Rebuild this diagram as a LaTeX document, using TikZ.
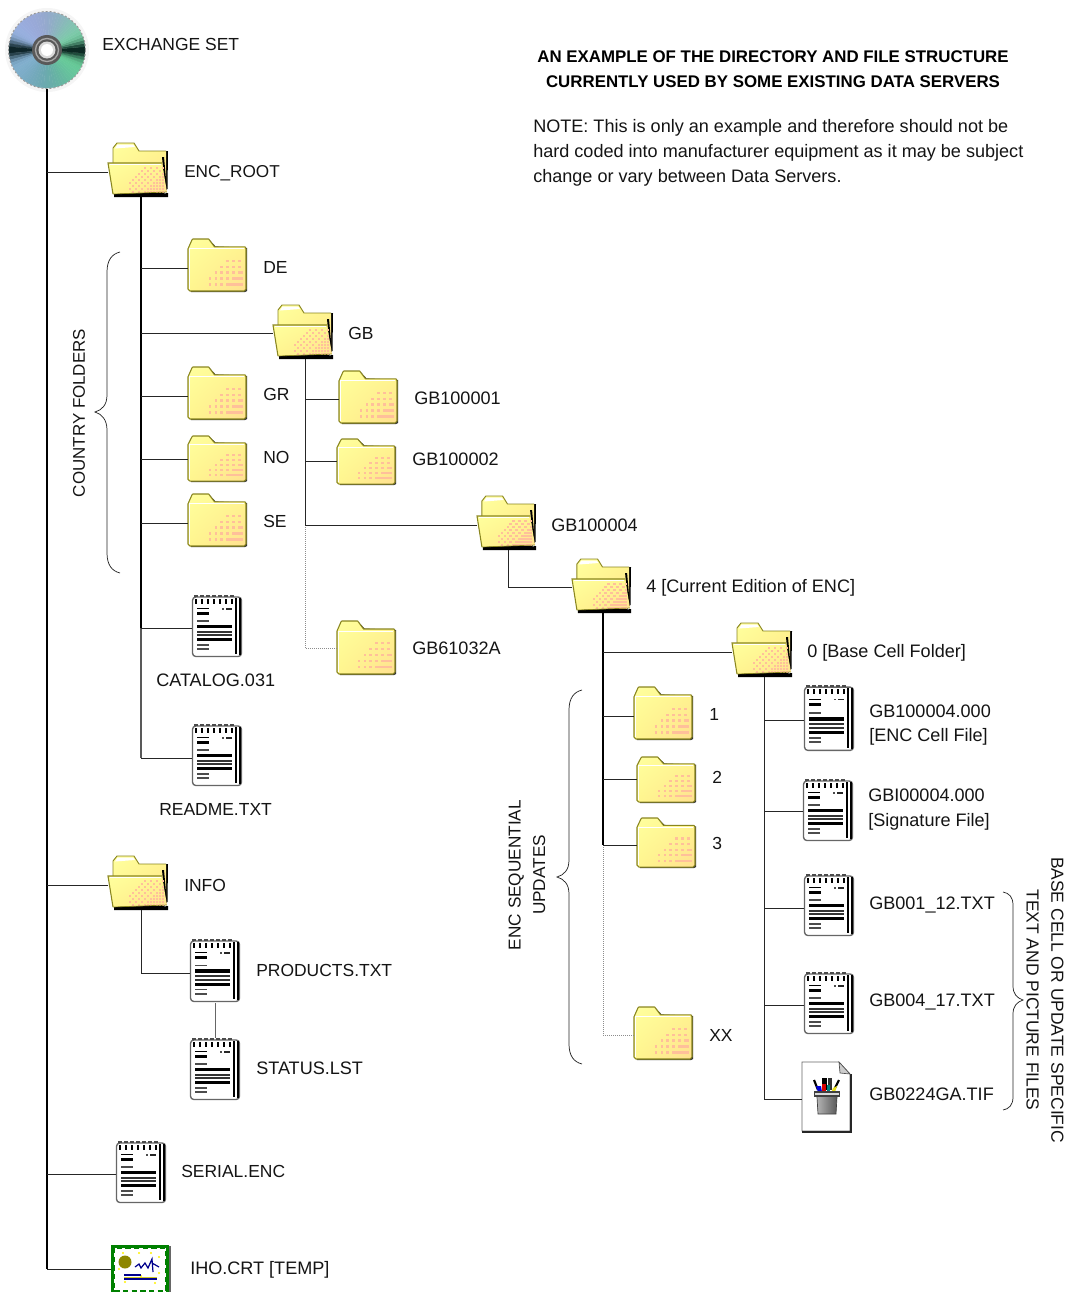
\documentclass[tikz,border=0pt]{standalone}
\usepackage{fontspec}
\usetikzlibrary{shadings}
\setmainfont{Liberation Sans}
\definecolor{folderedge}{HTML}{8A8620}
\definecolor{foldera}{HTML}{FFFF9E}
\definecolor{folderb}{HTML}{FFF68E}
\definecolor{folderc}{HTML}{FFE090}
\definecolor{folderdot}{HTML}{FFC09A}
\newcommand{\fs}{\fontsize{13.1pt}{18.4pt}\selectfont}
\newcommand{\fw}{\fontsize{13.55pt}{18.4pt}\selectfont}
\tikzset{
  iconbox/.style={inner sep=0pt,outer sep=0pt,draw=none,rectangle},
  lbl/.style={anchor=west,inner sep=0pt,font=\fs,text=black!92,yshift=.5pt},
  lblw/.style={lbl,font=\fw},
  lblblock/.style={lblw,align=left},
  rotlbl/.style={inner sep=0pt,font=\fs,align=center,text=black!92},
  titlelbl/.style={inner sep=0pt,font=\fontsize{12.65pt}{18.6pt}\selectfont\bfseries,align=center,text=black},
  trunk/.style={line width=1.3pt,black},
  branch/.style={line width=.7pt,black!85},
  thinline/.style={line width=.55pt,black!60},
  faintline/.style={line width=.5pt,black!45,densely dotted},
  bracestyle/.style={line width=.55pt,black!85},
  folderfill/.style={upper left=foldera,upper right=folderb,lower left=folderb,lower right=folderc},
}
\newcommand{\iconnode}[6]{%
  \node[iconbox,minimum width={(#4-#2)*0.75pt},minimum height={2*(#5-#6)*0.75pt}] (#1) at ({(#2+#4)/2},#6) {};}
% dither of pink squares, densest towards the lower right
\newcommand{\dotsfolder}[2]{%
  \foreach \dx in {#1,24,...,54} {\foreach \dy in {#2,27,...,48} {
    \pgfmathparse{(\dx/60+\dy/54>1.0 && mod(\dx+\dy,2)==0) || (\dx/60+\dy/54>1.45)?1:0}
    \ifnum\pgfmathresult=1 \fill[folderdot] (\dx,\dy) rectangle +(2.4,2.4); \fi
  }}}
% name x1 y1 x2 y2 liney
\newcommand{\cfolder}[6]{%
  \iconnode{#1}{#2}{#3}{#4}{#5}{#6}
  \begin{scope}[shift={(#2,#3)},xscale={(#4-#2)/60},yscale={(#5-#3)/54}]
    \fill[black!80] (22,1) -- (28,7.5) -- (60,9) -- (60,53) -- (58,54) -- (3,54) -- (3,12) -- cycle;
    \shade[folderfill] (0,10) -- (4,1) -- (5,0) -- (21,0) -- (27,8) -- (58,8) -- (59,10) -- (59,51) -- (57,53) -- (2,53) -- (0,51) -- cycle;
    \dotsfolder{21}{21}
    \draw[folderedge,line width=.8pt,line join=round] (2,53) -- (0,51) -- (0,10) -- (4,1) -- (5,0) -- (21,0) -- (27,8) -- (58,8) -- (59,10) -- (59,51) -- (57,53) -- cycle;
    \draw[white,line width=.5pt] (1.5,51) -- (1.5,10) -- (57,10);
  \end{scope}}
\newcommand{\ofolder}[6]{%
  \iconnode{#1}{#2}{#3}{#4}{#5}{#6}
  \begin{scope}[shift={(#2,#3)},xscale={(#4-#2)/60},yscale={(#5-#3)/54}]
    \fill[black] (6,50) -- (59.5,46) -- (60,8) -- (58,8) -- (58,46) -- (56,50.5) -- (60,50) -- (60,54) -- (6,54) -- cycle;
    \shade[folderfill] (5,20) -- (5,5) -- (9,0) -- (26,0) -- (31,8) -- (58,8) -- (58,45) -- (5,45) -- cycle;
    \draw[folderedge,line width=.7pt] (5,20) -- (5,5) -- (9,0) -- (26,0) -- (31,8) -- (58,8);
    \fill[white] (7,5.5) -- (9.5,1.5) -- (25,1.5) -- (27,4) -- cycle;
    \fill[black] (54,14) -- (56,14) -- (59,47) -- (57,47) -- cycle;
    \shade[folderfill] (0,20) -- (54,20) -- (59,49) -- (5,51) -- cycle;
    \dotsfolder{21}{24}
    \draw[folderedge,line width=.8pt] (5,51) -- (0,20) -- (54,20);
    \draw[white,line width=.5pt] (2,21.5) -- (53,21.5);
    \draw[folderedge,line width=.5pt] (5,51) -- (59,49);
  \end{scope}}
\newcommand{\docicon}[6]{%
  \iconnode{#1}{#2}{#3}{#4}{#5}{#6}
  \begin{scope}[shift={(#2,#3)},xscale={(#4-#2)/51},yscale={(#5-#3)/63}]
    \filldraw[fill=white,draw=black!60,line width=1pt,rounded corners=2.5pt] (0.5,2) rectangle (49.5,61.5);
    \fill[black] (42.5,3) rectangle (44.5,59);
    \fill[black] (46.5,3) rectangle (49,60);
    \foreach \r in {3,9,...,39} {
      \fill[black] (\r,3.5) rectangle (\r+1.6,8.5);
      \fill[black!70] (\r-1.2,0.3) rectangle (\r+3,2.2);
    }
    \fill[black] (4.5,13) rectangle (16.5,14.2);
    \fill[black] (4.5,17) rectangle (16.5,20);
    \fill[black!70] (30,13) rectangle (32,14.5);
    \fill[black!85] (34,13) rectangle (39.5,14.5);
    \fill[black!70] (4.5,25.3) rectangle (16.5,26.8);
    \fill[black] (4.5,30) rectangle (39.5,33.4);
    \fill[black!80] (4.5,35.8) rectangle (39.5,37.6);
    \fill[black!80] (4.5,39.2) rectangle (39.5,41);
    \fill[black] (4.5,43) rectangle (39.5,46);
    \fill[black!70] (4.5,49.3) rectangle (16.5,50.5);
    \fill[black!70] (4.5,53) rectangle (16.5,54.8);
  \end{scope}}
\newcommand{\pageicon}[6]{%
  \iconnode{#1}{#2}{#3}{#4}{#5}{#6}
  \begin{scope}[shift={(#2,#3)},xscale={(#4-#2)/50},yscale={(#5-#3)/70}]
    \filldraw[fill=white,draw=black!60,line width=.5pt] (0,0) -- (37,0) -- (48,12) -- (48,69) -- (0,69) -- cycle;
    \draw[black!85,line width=.9pt] (49,12) -- (49,70) -- (0,70);
    \filldraw[fill=black!20,draw=black!70,line width=.5pt] (37,0) -- (38,11) -- (48,12) -- cycle;
    % pens
    \draw[black,line width=1.6pt] (12,18) -- (16,28);
    \draw[black,line width=1.6pt] (37,18) -- (32,28);
    \fill[black] (20,16) rectangle (25,28);
    \fill[black!80] (26,16) rectangle (30,28);
    \fill[blue!85!black] (14,24) -- (19,24) -- (20,30) -- (16,30) -- cycle;
    \fill[red!85!black] (20,22) -- (24,22) -- (24,30) -- (20,30) -- cycle;
    \fill[teal] (25,23) -- (28,23) -- (28,30) -- (25,30) -- cycle;
    \fill[yellow!90!black] (31,26) -- (35,24) -- (33,30) -- (29,31) -- cycle;
    % cup
    \fill[black!75] (12,29) rectangle (38,35);
    \fill[black!15] (13,31) rectangle (37,33);
    \shade[left color=black!30,middle color=white,right color=black!65] (15,35) -- (35,35) -- (34,52) -- (16,52) -- cycle;
    \draw[black!75,line width=.5pt] (15,35) -- (16,52) -- (34,52) -- (35,35);
  \end{scope}}
\newcommand{\certicon}[6]{%
  \iconnode{#1}{#2}{#3}{#4}{#5}{#6}
  \begin{scope}
    \clip (#2-2,#3-2) rectangle (#4+2,#5);
    \begin{scope}[shift={(#2,#3)}]
      \fill[green!50!black] (0,0) rectangle (58,50);
      \fill[black!60] (58,1) rectangle (59.5,50);
      \fill[white] (3,3) rectangle (55,50);
      \draw[green!50!black,line width=1.5pt,dash pattern=on 4pt off 2.5pt] (3,3) rectangle (55,46);
      \fill[black!25] (0,48) rectangle (58,50);
      \fill[yellow] (12,8) circle (1.2) (28,8) circle (1.2) (40,8) circle (1.2) (48,12) circle (1.2) (8,24) circle (1.2) (48,28) circle (1.2) (30,31) circle (1.2) (14,37) circle (1.2) (44,38) circle (1.2);
      \fill[olive] (14,17) circle (6.5);
      \draw[blue!55!black,line width=.9pt] (24,22) -- (28,19) -- (30,23) -- (34,18) -- (37,23) -- (41,14) -- (42,27) (41,18) -- (48,22);
      \draw[blue!55!black,line width=.9pt] (13,30) -- (30,30) (13,34) -- (46,34);
      \draw[yellow!80!black,line width=.6pt] (13,32) -- (46,32);
    \end{scope}
  \end{scope}}
\begin{document}
\begin{tikzpicture}[x=0.75pt,y=-0.75pt]
\useasboundingbox (0,0) rectangle (1068,1292);
% CD
\node[iconbox,circle,minimum size=78*0.75pt] (cd) at (47,50) {};
\fill[black!4] (47,50) circle (42);
\foreach \a in {0,5,...,355} {
  \pgfmathsetmacro\mid{\a+2.5}
  \pgfmathsetmacro\dk{pow(abs(cos(\mid)),30)*0.92}
  \pgfmathsetmacro\rr{(0.50+0.08*sin(\mid)-0.06*cos(\mid))*(1-\dk)}
  \pgfmathsetmacro\gg{(0.72+0.05*cos(2*\mid)+0.06*cos(\mid))*(1-\dk)+0.08*\dk}
  \pgfmathsetmacro\bb{(0.74+0.06*sin(\mid)-0.12*cos(\mid))*(1-\dk)+0.08*\dk}
  \definecolor{wedgecol}{rgb}{\rr,\gg,\bb}
  \filldraw[fill=wedgecol,draw=wedgecol,line width=.2pt] (47,50) -- ({47+38*cos(\a)},{50-38*sin(\a)}) -- ({47+38*cos(\a+5)},{50-38*sin(\a+5)}) -- cycle;
}
\draw[black!40,line width=.7pt,dash pattern=on 1.5pt off 1.5pt] (47,50) circle (38.5);
\fill[black!65] (47,50) circle (15);
\draw[black!35,line width=1pt] (47,50) circle (11.5);
\fill[black!15] (47,50) circle (8.5);
\fill[white] (47,50) circle (6);

% icons
\ofolder{enc}{108}{143}{168}{197}{172}
\cfolder{de}{188}{239}{247}{292}{268}
\ofolder{gb}{273}{305}{333}{359}{333}
\cfolder{gr}{188}{367}{247}{420}{396}
\cfolder{no}{188}{436}{247}{482}{459}
\cfolder{se}{188}{494}{247}{547}{523}
\docicon{catalog}{192}{595}{243}{658}{628}
\docicon{readme}{192}{724}{243}{787}{758}
\cfolder{gbone}{339}{371}{398}{424}{399}
\cfolder{gbtwo}{337}{439}{396}{485}{461}
\ofolder{gbfour}{477}{496}{536}{550}{525}
\cfolder{gbsixone}{337}{621}{396}{675}{648}
\ofolder{four}{572}{559}{631}{613}{587}
\ofolder{zero}{732}{623}{792}{677}{652}
\cfolder{one}{634}{687}{693}{740}{716}
\cfolder{two}{637}{757}{696}{803}{779}
\cfolder{three}{637}{818}{696}{868}{845}
\cfolder{xx}{634}{1007}{693}{1060}{1035}
\docicon{cell}{804}{685}{855}{752}{720}
\docicon{sig}{803}{779}{854}{842}{811}
\docicon{txta}{804}{874}{855}{937}{908}
\docicon{txtb}{804}{972}{855}{1035}{1005}
\pageicon{tif}{802}{1062}{852}{1132}{1099}
\ofolder{info}{108}{856}{168}{910}{885}
\docicon{products}{190}{939}{241}{1003}{973}
\docicon{status}{190}{1038}{241}{1101}{1070}
\docicon{serial}{116}{1141}{167}{1204}{1174}
\certicon{iho}{111}{1245}{170}{1292}{1269}

% trunk anchors
\coordinate (cdfoot) at (47,89);
\coordinate (enctr) at (141,197);
\coordinate (entrmid) at (141,628);
\coordinate (gbtr) at (305,359);
\coordinate (gbtrmid) at (305,525);
\coordinate (gbfourtr) at (508,550);
\coordinate (fourtr) at (603,613);
\coordinate (fourtrmid) at (603,845);
\coordinate (zerotr) at (764,677);
\coordinate (infotr) at (141,910);
\coordinate (statustr) at (215,1003);
\coordinate (statustop) at (215,1038);

% connectors
\draw[trunk] (cdfoot) -- (cdfoot |- iho.west);
\draw[branch] (cdfoot |- iho.west) -- (iho.west);
\draw[branch] (cdfoot |- enc.west) -- (enc.west);
\draw[branch] (cdfoot |- info.west) -- (info.west);
\draw[branch] (cdfoot |- serial.west) -- (serial.west);
\draw[trunk] (enctr) -- (entrmid);
\draw[line width=.8pt,black!65] (entrmid) -- (entrmid |- readme.west);
\draw[branch] (entrmid |- readme.west) -- (readme.west);
\draw[branch] (enctr |- de.west) -- (de.west);
\draw[branch] (enctr |- gb.west) -- (gb.west);
\draw[branch] (enctr |- gr.west) -- (gr.west);
\draw[branch] (enctr |- no.west) -- (no.west);
\draw[branch] (enctr |- se.west) -- (se.west);
\draw[branch] (enctr |- catalog.west) -- (catalog.west);
\draw[branch] (gbtr) -- (gbtrmid);
\draw[faintline] (gbtrmid) |- (gbsixone.west);
\draw[branch] (gbtr |- gbone.west) -- (gbone.west);
\draw[branch] (gbtr |- gbtwo.west) -- (gbtwo.west);
\draw[branch] (gbtr |- gbfour.west) -- (gbfour.west);
\draw[branch] (gbfourtr) |- (four.west);
\draw[trunk,line width=1pt] (fourtr) -- (fourtrmid);
\draw[faintline] (fourtrmid) |- (xx.west);
\draw[branch] (fourtr |- zero.west) -- (zero.west);
\draw[branch] (fourtr |- one.west) -- (one.west);
\draw[branch] (fourtr |- two.west) -- (two.west);
\draw[branch] (fourtr |- three.west) -- (three.west);
\draw[branch] (zerotr) |- (tif.west);
\draw[branch] (zerotr |- cell.west) -- (cell.west);
\draw[branch] (zerotr |- sig.west) -- (sig.west);
\draw[branch] (zerotr |- txta.west) -- (txta.west);
\draw[branch] (zerotr |- txtb.west) -- (txtb.west);
\draw[branch] (infotr) |- (products.west);
\draw[thinline] (statustr) -- (statustop);

% braces
\draw[bracestyle] (120,252) .. controls (112,254) and (107,260) .. (107,272) -- (107,395) .. controls (107,405) and (102,410) .. (95,412) .. controls (102,414) and (107,420) .. (107,430) -- (107,553) .. controls (107,565) and (112,571) .. (120,573);
\draw[bracestyle] (582,690) .. controls (574,692) and (569,698) .. (569,710) -- (569,860) .. controls (569,870) and (564,875) .. (557,877) .. controls (564,879) and (569,884) .. (569,894) -- (569,1044) .. controls (569,1056) and (574,1062) .. (582,1064);
\draw[bracestyle] (1003,892) .. controls (1009,893) and (1013,897) .. (1013,905) -- (1013,986) .. controls (1013,994) and (1017,998) .. (1023,1000) .. controls (1017,1002) and (1013,1006) .. (1013,1014) -- (1013,1097) .. controls (1013,1105) and (1009,1109) .. (1003,1110);

% labels
\node[lbl] (lcd) at (102,45) {EXCHANGE SET};
\node[titlelbl] (ltitle) at (773,69.5) {AN EXAMPLE OF THE DIRECTORY AND FILE STRUCTURE\\CURRENTLY USED BY SOME EXISTING DATA SERVERS};
\node[lblblock] (lnote) at (533,153.5) {NOTE: This is only an example and therefore should not be\\hard coded into manufacturer equipment as it may be subject\\change or vary between Data Servers.};
\node[lbl,font=\fontsize{12.9pt}{18.4pt}\selectfont] (lenc) at (184,174) {ENC\_ROOT};
\node[lbl] (lde) at (263,268) {DE};
\node[lbl] (lgb) at (348,334) {GB};
\node[lbl] (lgr) at (263,395) {GR};
\node[lbl] (lno) at (263,458) {NO};
\node[lbl] (lse) at (263,522) {SE};
\node[lblw] (lcat) at (156,681) {CATALOG.031};
\node[lbl] (lread) at (159,810) {README.TXT};
\node[lblw] (lone) at (414,399) {GB100001};
\node[lblw] (ltwo) at (412,460) {GB100002};
\node[lblw] (lfour) at (551,526) {GB100004};
\node[lblw] (lsix) at (412,649) {GB61032A};
\node[lblw] (lcur) at (646,588) {4 [Current Edition of ENC]};
\node[lblw] (lzero) at (807,653) {0 [Base Cell Folder]};
\node[lbl] (lu1) at (709,715) {1};
\node[lbl] (lu2) at (712,778) {2};
\node[lbl] (lu3) at (712,844) {3};
\node[lbl] (luxx) at (709,1036) {XX};
\node[lblblock] (lcell) at (869,725.5) {GB100004.000\\{}[ENC Cell File]};
\node[lblblock] (lsig) at (868,810) {GBI00004.000\\{}[Signature File]};
\node[lblw] (lta) at (869,906) {GB001\_12.TXT};
\node[lblw] (ltb) at (869,1003) {GB004\_17.TXT};
\node[lblw] (ltif) at (869,1095) {GB0224GA.TIF};
\node[lbl] (linfo) at (184,886) {INFO};
\node[lbl] (lprod) at (256,971) {PRODUCTS.TXT};
\node[lblw] (lstat) at (256,1069) {STATUS.LST};
\node[lbl] (lser) at (181,1172) {SERIAL.ENC};
\node[lblw] (liho) at (190,1270) {IHO.CRT [TEMP]};
\node[rotlbl,rotate=90,font=\fontsize{12.7pt}{18.4pt}\selectfont] (lcountry) at (79,413) {COUNTRY FOLDERS};
\node[rotlbl,rotate=90,font=\fontsize{12.9pt}{18.4pt}\selectfont] (lseq) at (527,875) {ENC SEQUENTIAL\\UPDATES};
\node[rotlbl,rotate=-90] (lbase) at (1045,1000) {BASE CELL OR UPDATE SPECIFIC\\TEXT AND PICTURE FILES};
\end{tikzpicture}
\end{document}
